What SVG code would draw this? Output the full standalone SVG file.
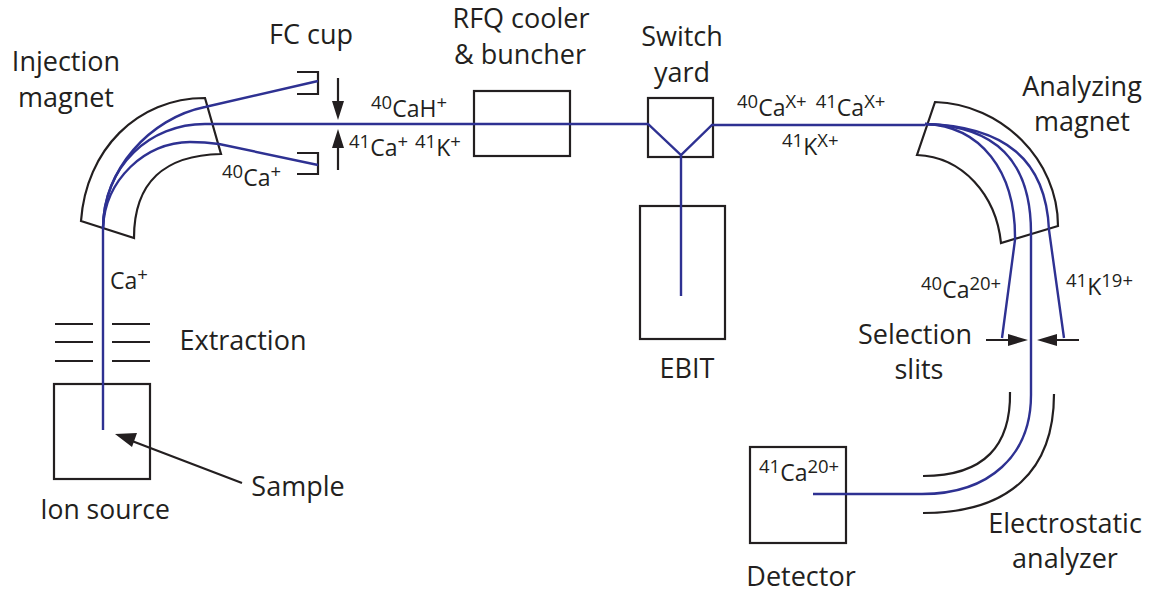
<svg xmlns="http://www.w3.org/2000/svg" width="1151" height="592" viewBox="0 0 1151 592">
<style>
text{font-family:"Open Sans","Noto Sans","Liberation Sans",sans-serif;fill:#231f20}
.l{font-size:27px;text-anchor:middle}
.s{font-size:23px}
.s tspan.u{font-size:18.5px}
.k{fill:none;stroke:#231f20;stroke-width:2.2}
.b{fill:none;stroke:#2e3192;stroke-width:2.4}
.a{fill:none;stroke:#231f20;stroke-width:2.2}
.h{fill:#231f20}
</style>
<rect width="1151" height="592" fill="#fff"/>
<g id="injection-magnet"><path class="k" d="M81 221C86 150 137 98 205 98L221 154C165 155 134 182 134 238Z"/><text class="l" x="66" y="71">Injection</text><text class="l" x="66" y="107">magnet</text></g>
<g id="fc-cup-upper"><path class="k" d="M297 72H318V94H297"/><text class="l" x="311" y="44">FC cup</text></g>
<g id="fc-cup-lower"><path class="k" d="M297 153H318V174H297"/></g>
<g id="rfq"><rect class="k" x="474" y="91" width="96" height="65"/><text class="l" x="521" y="28">RFQ cooler</text><text class="l" x="520" y="64">&amp; buncher</text></g>
<g id="switch-yard"><rect class="k" x="648" y="98" width="65" height="59"/><text class="l" x="682" y="46">Switch</text><text class="l" x="682" y="82">yard</text></g>
<g id="ebit"><rect class="k" x="640" y="206" width="85" height="133"/><text class="l" x="687" y="378">EBIT</text></g>
<g id="analyzing-magnet"><path class="k" d="M935 102C1002 104 1058 160 1058 226L1001 243C996 195 963 157 917 155Z"/><text class="l" x="1082" y="96">Analyzing</text><text class="l" x="1082" y="131">magnet</text></g>
<g id="ion-source"><rect class="k" x="54" y="384" width="96" height="95"/><text class="l" x="105" y="519" style="font-size:26.5px">Ion source</text></g>
<g id="extraction"><path class="k" d="M55 324H93M112 324H150M55 342H93M112 342H150M55 361H93M112 361H150"/><text class="l" x="243" y="350">Extraction</text></g>
<g id="selection-slits"><text class="l" x="915" y="344">Selection</text><text class="l" x="919" y="379">slits</text></g>
<g id="electrostatic-analyzer"><path class="k" d="M1010 392C1011 445 985 476 923 476"/><path class="k" d="M1054 394C1054 470 1010 513 923 513"/><text class="l" x="1065" y="533">Electrostatic</text><text class="l" x="1065" y="568">analyzer</text></g>
<g id="detector"><rect class="k" x="750" y="447" width="96" height="96"/><text class="l" x="801" y="586">Detector</text></g>
<g id="connectors">
<path class="b" d="M103 430V228C103 170 150 118 205 107L318 81"/>
<path class="b" d="M103 228C104 165 150 124 205 124H648L681 155L712 125H925"/>
<path class="b" d="M103 228C105 180 145 142 190 142C200 142 212 143 219 144L318 165"/>
<path class="b" d="M681 155V296"/>
<path class="b" d="M925 124C980 126 1016 170 1015 240L1002 338"/>
<path class="b" d="M925 124C995 126 1031 160 1031 233V395C1031 455 990 494 922 494H813"/>
<path class="b" d="M925 124C1005 126 1046 160 1049 230L1064 338"/>
<path class="a" d="M338 78V105M338 144V170M986 340H1010M1079 340H1055M242 483L132 441"/>
<path class="h" d="M338 120L332 101H344ZM338 129L332 148H344ZM1028 340L1008 334V346ZM1037 340L1057 334V346ZM115 434L137 433L132 447Z"/>
</g>
<g id="labels">
<text class="s" x="371" y="117"><tspan class="u" dy="-8">40</tspan><tspan dy="8">CaH</tspan><tspan class="u" dy="-8">+</tspan></text>
<text class="s" x="349" y="156"><tspan class="u" dy="-8">41</tspan><tspan dy="8">Ca</tspan><tspan class="u" dy="-8">+</tspan><tspan class="u" dx="7">41</tspan><tspan dy="8">K</tspan><tspan class="u" dy="-8">+</tspan></text>
<text class="s" x="222" y="186"><tspan class="u" dy="-8">40</tspan><tspan dy="8">Ca</tspan><tspan class="u" dy="-8">+</tspan></text>
<text class="s" x="110" y="289">Ca<tspan class="u" dy="-8">+</tspan></text>
<text class="s" x="737" y="116"><tspan class="u" dy="-8">40</tspan><tspan dy="8">Ca</tspan><tspan class="u" dy="-8">X+</tspan><tspan class="u" dx="9">41</tspan><tspan dy="8">Ca</tspan><tspan class="u" dy="-8">X+</tspan></text>
<text class="s" x="782" y="155"><tspan class="u" dy="-8">41</tspan><tspan dy="8">K</tspan><tspan class="u" dy="-8">X+</tspan></text>
<text class="s" x="921" y="298"><tspan class="u" dy="-8">40</tspan><tspan dy="8">Ca</tspan><tspan class="u" dy="-8">20+</tspan></text>
<text class="s" x="1066" y="295"><tspan class="u" dy="-8">41</tspan><tspan dy="8">K</tspan><tspan class="u" dy="-8">19+</tspan></text>
<text class="s" x="759" y="481"><tspan class="u" dy="-8">41</tspan><tspan dy="8">Ca</tspan><tspan class="u" dy="-8">20+</tspan></text>
<text class="l" x="298" y="496">Sample</text>
</g>
</svg>
